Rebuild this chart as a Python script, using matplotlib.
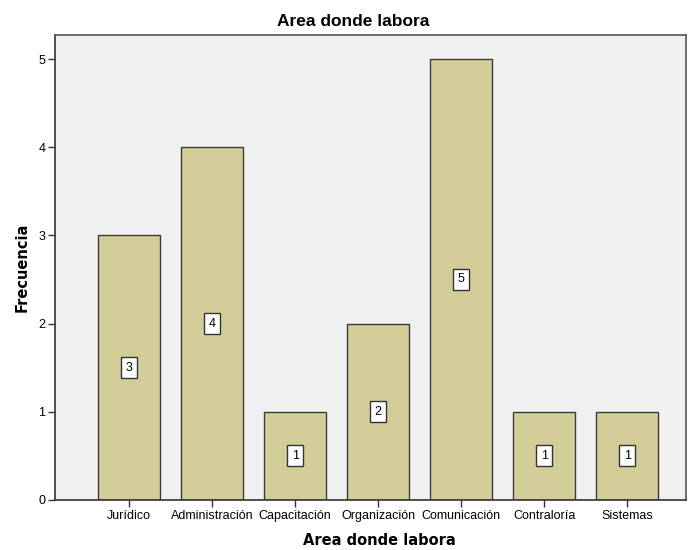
import matplotlib
matplotlib.use("Agg")
import matplotlib.pyplot as plt

areas = ["Jurídico", "Administración", "Capacitación", "Organización",
         "Comunicación", "Contraloría", "Sistemas"]
frecuencia = [3, 4, 1, 2, 5, 1, 1]
y_ticks = [0, 1, 2, 3, 4, 5]

plt.rcParams['font.family'] = ['Liberation Sans', 'DejaVu Sans']

fig = plt.figure(figsize=(6.89, 5.5), dpi=100)
ax = fig.add_axes([0.080, 0.091, 0.916, 0.845])
ax.set_facecolor("#f0f0f0")

x = list(range(len(areas)))
ax.bar(x, frecuencia, width=0.75, color="#d3ce97", edgecolor="#3a3a3a", linewidth=1.0, zorder=2)

# value boxes in the middle of each bar
for xi, v in zip(x, frecuencia):
    ax.text(xi, v / 2, str(v), ha="center", va="center", fontsize=9, zorder=3,
            bbox=dict(boxstyle="square,pad=0.35", facecolor="white", edgecolor="#333333", linewidth=1.0))

ax.set_xlim(-0.89, 6.71)
ax.set_ylim(0, 5.27)
ax.set_xticks(x)
ax.set_xticklabels(areas, fontsize=9)
ax.set_yticks(y_ticks)
ax.set_yticklabels([str(t) for t in y_ticks], fontsize=9)
ax.tick_params(direction="out", length=5, width=1, color="#333333", pad=2)

for side in ["top", "right"]:
    ax.spines[side].set_color("#555555")
for side in ["left", "bottom"]:
    ax.spines[side].set_color("#333333")
for s in ax.spines.values():
    s.set_linewidth(1.2)

fig.text(353 / 689, 1 - 21 / 550, "Area donde labora", ha="center", va="center",
         fontsize=12.5, fontweight="bold")
ax.set_xlabel("Area donde labora", fontsize=10.5, fontweight="bold",
              family="DejaVu Sans")
ax.xaxis.set_label_coords(0.513, -0.072)
ax.set_ylabel("Frecuencia", fontsize=10.5, fontweight="bold", labelpad=6,
              family="DejaVu Sans")

fig.savefig("out.png", dpi=100)
